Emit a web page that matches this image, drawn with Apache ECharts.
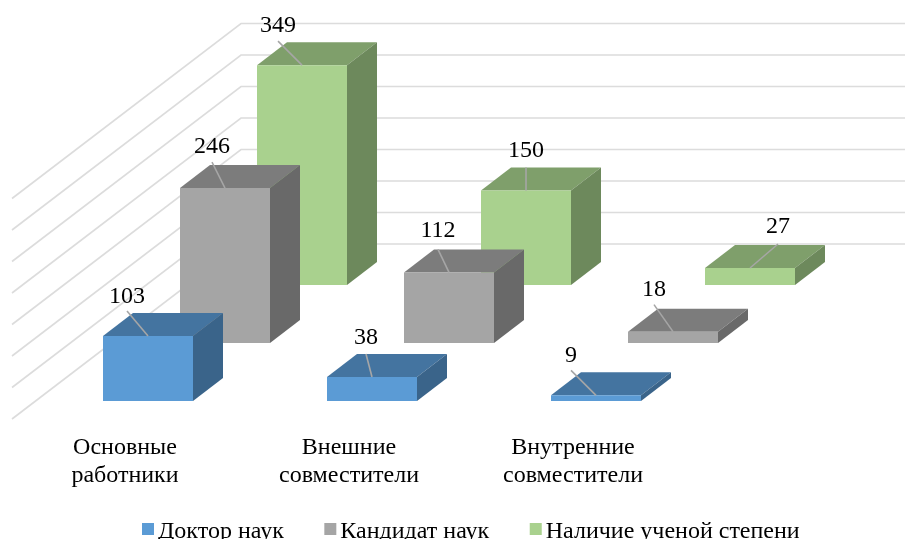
<!DOCTYPE html>
<html>
<head>
<meta charset="utf-8">
<style>
  html, body { margin: 0; padding: 0; background: #fff; }
  #chart { width: 905px; height: 539px; }
</style>
<script src="https://cdn.jsdelivr.net/npm/echarts@6/dist/echarts.min.js"></script>
</head>
<body>
<div id="chart"></div>
<script>
const categories = ['Основные\nработники', 'Внешние\nсовместители', 'Внутренние\nсовместители'];
const seriesNames = ['Доктор наук', 'Кандидат наук', 'Наличие ученой степени'];
const doctors = [103, 38, 9];
const candidates = [246, 112, 18];
const degree = [349, 150, 27];
const yTicks = [0, 50, 100, 150, 200, 250, 300, 350];

// 3d look, everything in px on top of the axis scale
const FONT = '"Liberation Serif", "Times New Roman", serif';
const DEPTH = [30, -23];         // bar depth
const ROW_STEP = [77, -58];      // shift from one series row to the next one
const FIRST_ROW = [-22, -18];    // first row relative to the axis point
const WALL = [229, -175];        // left wall, front to back
const BAR_WIDTH = 90;

const palette = [
  { front: '#5b9bd5', top: '#4474a0', side: '#3a648a' },
  { front: '#a5a5a5', top: '#7c7c7c', side: '#696969' },
  { front: '#a9d18e', top: '#7f9f6b', side: '#6d895c' }
];

// label leaders: dx, dy from the middle of the top front edge, then gap up to the text
const leaders = [
  [[-21, -25, 2], [-6, -23, 4], [-25, -25, 3]],
  [[-13, -26, 3], [-11, -23, 7], [-19, -27, 3]],
  [[-24, -24, 3], [0, -23, 5], [28, -24, 5]]
];

const chart = echarts.init(document.getElementById('chart'));

function renderGrid(params, api) {
  const p = api.coord([0, api.value(1)]);
  const x0 = p[0] - api.size([1, 0])[0] / 2 - 1;
  return {
    type: 'polyline',
    shape: { points: [[x0, p[1]], [x0 + WALL[0], p[1] + WALL[1]], [api.getWidth(), p[1] + WALL[1]]] },
    style: { stroke: '#dcdcdc', lineWidth: 1.6, fill: null },
    silent: true
  };
}

function makeBarRender(row) {
  return function (params, api) {
    const colors = palette[row];
    const idx = api.value(0);
    const base = api.coord([idx, 0]);
    const top = api.coord([idx, api.value(1)]);
    const x = base[0] + FIRST_ROW[0] + ROW_STEP[0] * row;
    const shiftY = FIRST_ROW[1] + ROW_STEP[1] * row;
    const y0 = base[1] + shiftY;
    const y1 = top[1] + shiftY;
    const x1 = x + BAR_WIDTH;
    const [dx, dy] = DEPTH;
    const lead = leaders[row][params.dataIndex];
    const mid = x + BAR_WIDTH / 2;
    const lx = mid + lead[0];
    const ly = y1 + lead[1];
    return {
      type: 'group',
      children: [
        { type: 'polygon', shape: { points: [[x, y1], [x1, y1], [x1 + dx, y1 + dy], [x + dx, y1 + dy]] }, style: { fill: colors.top } },
        { type: 'polygon', shape: { points: [[x1, y0], [x1, y1], [x1 + dx, y1 + dy], [x1 + dx, y0 + dy]] }, style: { fill: colors.side } },
        { type: 'polygon', shape: { points: [[x, y0], [x1, y0], [x1, y1], [x, y1]] }, style: { fill: colors.front } },
        { type: 'line', shape: { x1: mid, y1: y1, x2: lx, y2: ly }, style: { stroke: '#a6a6a6', lineWidth: 1.6 } },
        {
          type: 'text',
          style: {
            x: lx, y: ly - lead[2],
            text: String(api.value(1)),
            fill: '#000', font: '24px ' + FONT,
            align: 'center', verticalAlign: 'bottom'
          }
        }
      ]
    };
  };
}

const rows = [doctors, candidates, degree];

const option = {
  animation: false,
  backgroundColor: '#fff',
  grid: { left: 13, width: 672, bottom: 120, height: 220.5 },
  xAxis: {
    type: 'category',
    data: categories,
    axisLine: { show: false },
    axisTick: { show: false },
    axisLabel: { color: '#000', fontFamily: FONT, fontSize: 24, lineHeight: 28, margin: 15 }
  },
  yAxis: { type: 'value', min: 0, max: 350, interval: 50, show: false },
  legend: {
    data: seriesNames,
    top: 520,
    left: 142,
    itemWidth: 12,
    itemHeight: 18,
    itemGap: 40.5,
    // square sits above the text middle, the empty bit below keeps it there
    icon: 'path://M0 0H12V12H0Z M0 18H12V18Z',
    padding: 0,
    textStyle: { color: '#000', fontFamily: FONT, fontSize: 24, padding: [0, 0, 0, -1] }
  },
  series: [
    {
      type: 'custom',
      z: 1,
      silent: true,
      data: yTicks.map(v => [0, v]),
      encode: { x: 0, y: 1 },
      renderItem: renderGrid
    }
  ].concat(rows.map((values, row) => ({
    type: 'custom',
    name: seriesNames[row],
    z: 4 - row,
    itemStyle: { color: palette[row].front },
    data: values.map((v, i) => [i, v]),
    encode: { x: 0, y: 1 },
    renderItem: makeBarRender(row)
  })))
};

chart.setOption(option);
</script>
</body>
</html>
